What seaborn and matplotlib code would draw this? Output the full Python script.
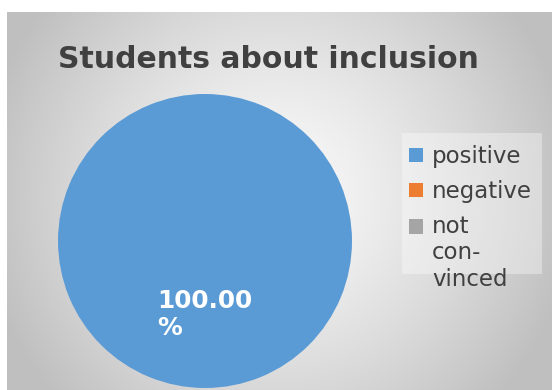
import numpy as np
import matplotlib
matplotlib.use("Agg")
import matplotlib.pyplot as plt
import seaborn as sns
from matplotlib.patches import Rectangle, Patch
from matplotlib.legend_handler import HandlerPatch

# survey answers
categories = ["positive", "negative", "not\ncon-\nvinced"]
shares = [100.0, 0.0, 0.0]
slice_colors = ["#5B9BD5", "#ED7D31", "#A5A5A5"]
title_text = "Students about inclusion"

sns.set_theme(style="white")
plt.rcParams["font.family"] = ["DejaVu Sans"]

W, H = 552, 390
fig = plt.figure(figsize=(W / 100, H / 100), dpi=100)
fig.patch.set_facecolor("white")

# chart area with a soft radial shading
x0, y0 = 7, 12
bg = fig.add_axes([x0 / W, 0, (W - x0) / W, (H - y0) / H])
yy, xx = np.mgrid[y0:H, x0:W] + 0.5
cx, cy, R = 277, 195, 300
t = np.clip(np.hypot(xx - cx, yy - cy) / R, 0, 1) ** 1.3
shade = 0.75 + (0.98 - 0.75) * (1 - t)
bg.imshow(np.dstack([shade] * 3), extent=[x0, W, H, y0], aspect="auto",
          interpolation="bilinear")
bg.set_xlim(x0, W)
bg.set_ylim(H, y0)
bg.set_axis_off()

# pie
pcx, pcy, pr = 205, 241, 147
pax = fig.add_axes([(pcx - pr) / W, (H - pcy - pr) / H, 2 * pr / W, 2 * pr / H])
pax.set_axis_off()


def pct_label(p):
    return f"{p:.2f}\n%" if p > 0 else ""


wedges, _, autotexts = pax.pie(
    shares, colors=slice_colors, startangle=90, counterclock=False,
    autopct=pct_label, pctdistance=0.5, radius=1,
    wedgeprops=dict(linewidth=0),
    textprops=dict(color="white", fontweight="bold", fontsize=17.8),
)
for t_ in autotexts:
    t_.set_multialignment("left")
pax.set_xlim(-1, 1)
pax.set_ylim(-1, 1)

# title
fig.text(268 / W, 1 - 60 / H, title_text, ha="center", va="center",
         fontsize=21.5, fontweight="bold", color="#404040")

# legend panel
fig.add_artist(Rectangle((402 / W, 1 - 274 / H), 140 / W, 141 / H,
                         transform=fig.transFigure, facecolor="white",
                         alpha=0.35, edgecolor="none", zorder=1))


def lifted(step_pt):
    # keeps the key square level with the first line of a wrapped label
    def make(legend, orig_handle, xdescent, ydescent, width, height, fontsize):
        return Rectangle((-xdescent, -ydescent + step_pt), width, height)
    return make


handles = [Patch(facecolor=c, edgecolor="none") for c in slice_colors]
leg = fig.legend(
    handles, categories, loc="upper left",
    bbox_to_anchor=(409 / W, 1 - 145 / H), frameon=False, fontsize=16.5,
    handlelength=0.6, handleheight=0.6, handletextpad=0.4, labelspacing=0.52,
    borderpad=0, borderaxespad=0, labelcolor="#404040",
    handler_map={handles[2]: HandlerPatch(patch_func=lifted(19.5))},
)

fig.savefig("out.png", dpi=100)
